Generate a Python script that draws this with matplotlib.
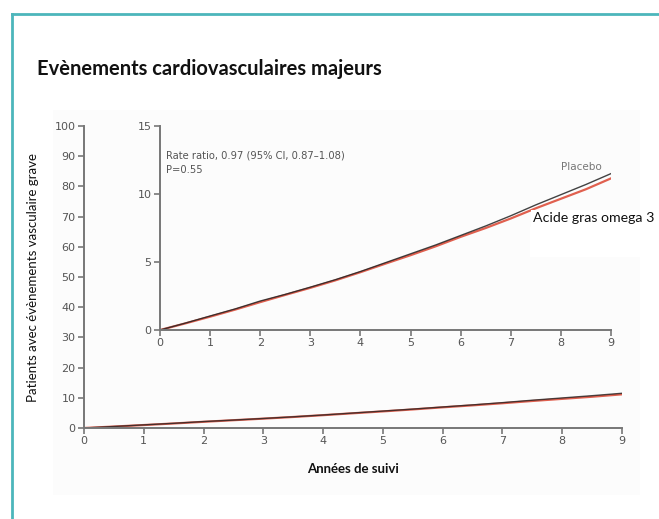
import matplotlib
matplotlib.use("Agg")
import matplotlib.pyplot as plt
from matplotlib.patches import Rectangle
from matplotlib.lines import Line2D

# ---- data ----
years = [0, 0.5, 1, 1.5, 2, 2.5, 3, 3.5, 4, 4.5, 5, 5.5, 6, 6.5, 7, 7.5, 8, 8.5, 9]
placebo = [0, 0.5, 1.03, 1.55, 2.13, 2.62, 3.15, 3.7, 4.3, 4.95, 5.6, 6.25, 6.95, 7.65, 8.4, 9.2, 9.95, 10.7, 11.5]
omega3 = [0, 0.48, 0.98, 1.5, 2.05, 2.58, 3.1, 3.65, 4.25, 4.88, 5.5, 6.15, 6.85, 7.5, 8.2, 8.95, 9.65, 10.35, 11.15]
x_ticks = [0, 1, 2, 3, 4, 5, 6, 7, 8, 9]
main_y_ticks = [0, 10, 20, 30, 40, 50, 60, 70, 80, 90, 100]
inset_y_ticks = [0, 5, 10, 15]

title = "Evènements cardiovasculaires majeurs"
ylabel = "Patients avec évènements vasculaire grave"
xlabel = "Années de suivi"
stat_line1 = "Rate ratio, 0.97 (95% CI, 0.87–1.08)"
stat_line2 = "P=0.55"
label_placebo = "Placebo"
label_omega = "Acide gras omega 3"

W, H = 659, 519
fig = plt.figure(figsize=(W / 100, H / 100), dpi=100)
fig.patch.set_facecolor("white")

teal = "#4cb6bb"
fig.add_artist(Line2D([12 / W, 1.0], [1 - 14 / H, 1 - 14 / H], color=teal, lw=2, transform=fig.transFigure))
fig.add_artist(Line2D([12 / W, 12 / W], [0, 1 - 14 / H], color=teal, lw=2, transform=fig.transFigure))
fig.add_artist(Rectangle((53 / W, 1 - 495 / H), (640 - 53) / W, (495 - 110) / H,
                         transform=fig.transFigure, facecolor="#fcfcfc", edgecolor="none", zorder=-5))

fig.text(37 / W, 1 - 75 / H, title, fontsize=14.5, fontweight="bold", family="Lato",
         ha="left", va="baseline", color="#111111")

spine_col = "#777777"
tick_col = "#555555"
red = "#e0604f"


def style(ax):
    for s in ["top", "right"]:
        ax.spines[s].set_visible(False)
    for s in ["left", "bottom"]:
        ax.spines[s].set_color(spine_col)
        ax.spines[s].set_linewidth(1.4)
    ax.tick_params(direction="out", length=4, width=1.2, color=spine_col,
                   labelcolor=tick_col, labelsize=8, pad=2)
    ax.set_xticks(x_ticks)
    ax.set_xlim(0, 9)


ax = fig.add_axes([84 / W, 1 - 428 / H, (622 - 84) / W, (428 - 126) / H])
ax.set_facecolor("none")
ax.plot(years, omega3, color=red, lw=1.6)
ax.plot(years, placebo, color="#222222", lw=1.0, alpha=0.8)
ax.set_ylim(0, 100)
ax.set_yticks(main_y_ticks)
style(ax)
ax.set_xlabel(xlabel, fontsize=9.5, fontweight="bold", family="Lato", labelpad=12, color="#111111")
fig.text(33 / W, 1 - 277 / H, ylabel, rotation=90, fontsize=9.5, family="Lato",
         ha="center", va="center", color="#111111")

ai = fig.add_axes([160 / W, 1 - 330 / H, (611 - 160) / W, (330 - 126) / H])
ai.set_facecolor("none")
ai.plot(years, omega3, color=red, lw=1.6)
ai.plot(years, placebo, color="#222222", lw=1.0, alpha=0.85)
ai.set_ylim(0, 15)
ai.set_yticks(inset_y_ticks)
style(ai)
ai.text(0.12, 12.85, stat_line1, fontsize=7.2, color=tick_col, va="center", ha="left")
ai.text(0.12, 11.75, stat_line2, fontsize=7.2, color=tick_col, va="center", ha="left")
ai.text(8.4, 11.65, label_placebo, fontsize=7.5, color="#777777", ha="center", va="bottom")
ai.text(7.44, 8.2, label_omega, fontsize=10.2, color="#111111", family="Lato",
        ha="left", va="center",
        bbox=dict(boxstyle="square,pad=0.15", facecolor="white", edgecolor="none"))
fig.add_artist(Rectangle((530 / W, 1 - 257 / H), 110 / W, 30 / H, transform=fig.transFigure,
                         facecolor="white", edgecolor="none", zorder=-4))

fig.savefig("out.png", dpi=100)
